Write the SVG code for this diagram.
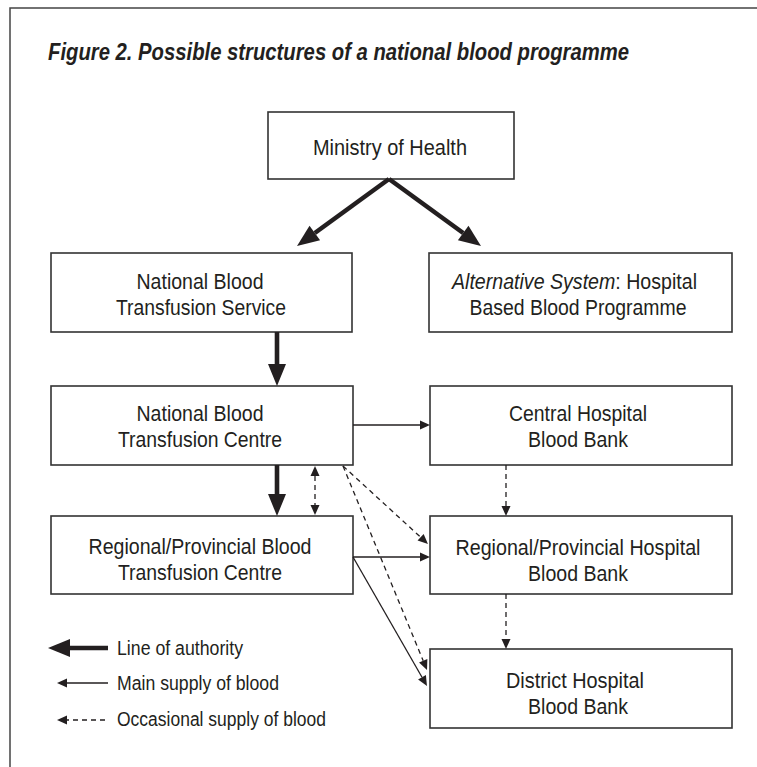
<svg xmlns="http://www.w3.org/2000/svg" width="757" height="767" viewBox="0 0 757 767">
<style>
  .frame{fill:none;stroke:#444;stroke-width:1.5}
  .box{fill:#fff;stroke:#333;stroke-width:1.6}
  .t{font-family:"Liberation Sans",Arial,sans-serif;font-size:22px;fill:#231f20;text-anchor:middle}
  .ts{font-family:"Liberation Sans",Arial,sans-serif;font-size:22px;fill:#231f20;text-anchor:start}
  .lg{font-family:"Liberation Sans",Arial,sans-serif;font-size:20px;fill:#231f20;text-anchor:start}
  .title{font-family:"Liberation Sans",Arial,sans-serif;font-size:23px;font-weight:bold;font-style:italic;fill:#231f20}
  .thick{stroke:#231f20;stroke-width:4.6;fill:none;stroke-linecap:butt}
  .thin{stroke:#231f20;stroke-width:1.3;fill:none}
  .dash{stroke:#231f20;stroke-width:1.3;fill:none;stroke-dasharray:5,4}
</style>
<defs>
  <marker id="bigHead" markerUnits="userSpaceOnUse" viewBox="0 -10 22 20" markerWidth="22" markerHeight="20" refX="0" refY="0" orient="auto" overflow="visible">
    <path d="M0,-9 L22,0 L0,9 Z" fill="#231f20"/>
  </marker>
  <marker id="smallHead" markerUnits="userSpaceOnUse" viewBox="0 -5 10 10" markerWidth="10" markerHeight="10" refX="0" refY="0" orient="auto-start-reverse" overflow="visible">
    <path d="M0,-4.5 L10,0 L0,4.5 Z" fill="#231f20"/>
  </marker>
</defs>
<rect x="0" y="0" width="757" height="767" fill="#fff"/>
<rect class="frame" x="10" y="8" width="800" height="800"/>
<text class="title" x="48" y="60" textLength="581" lengthAdjust="spacingAndGlyphs">Figure 2. Possible structures of a national blood programme</text>

<g id="ministry">
  <rect class="box" x="268" y="112" width="246" height="67"/>
  <text class="t" x="390" y="155" textLength="154" lengthAdjust="spacingAndGlyphs">Ministry of Health</text>
</g>
<g id="nbts">
  <rect class="box" x="51" y="253" width="301" height="79"/>
  <text class="t" x="200" y="289" textLength="127" lengthAdjust="spacingAndGlyphs">National Blood</text>
  <text class="t" x="201" y="315" textLength="170" lengthAdjust="spacingAndGlyphs">Transfusion Service</text>
</g>
<g id="alternative">
  <rect class="box" x="429" y="253" width="303" height="79"/>
  <text class="ts" x="452" y="289" textLength="245" lengthAdjust="spacingAndGlyphs"><tspan font-style="italic">Alternative System</tspan>: Hospital</text>
  <text class="t" x="578" y="315" textLength="217" lengthAdjust="spacingAndGlyphs">Based Blood Programme</text>
</g>
<g id="nbtc">
  <rect class="box" x="51" y="386" width="302" height="79"/>
  <text class="t" x="200" y="421" textLength="127" lengthAdjust="spacingAndGlyphs">National Blood</text>
  <text class="t" x="200" y="447" textLength="164" lengthAdjust="spacingAndGlyphs">Transfusion Centre</text>
</g>
<g id="central">
  <rect class="box" x="430" y="386" width="302" height="79"/>
  <text class="t" x="578" y="421" textLength="138" lengthAdjust="spacingAndGlyphs">Central Hospital</text>
  <text class="t" x="578" y="447" textLength="100" lengthAdjust="spacingAndGlyphs">Blood Bank</text>
</g>
<g id="regional">
  <rect class="box" x="51" y="516" width="302" height="78"/>
  <text class="t" x="200" y="554" textLength="223" lengthAdjust="spacingAndGlyphs">Regional/Provincial Blood</text>
  <text class="t" x="200" y="580" textLength="164" lengthAdjust="spacingAndGlyphs">Transfusion Centre</text>
</g>
<g id="regionalHospital">
  <rect class="box" x="430" y="516" width="302" height="78"/>
  <text class="t" x="578" y="555" textLength="245" lengthAdjust="spacingAndGlyphs">Regional/Provincial Hospital</text>
  <text class="t" x="578" y="581" textLength="100" lengthAdjust="spacingAndGlyphs">Blood Bank</text>
</g>
<g id="district">
  <rect class="box" x="430" y="649" width="302" height="79"/>
  <text class="t" x="575" y="688" textLength="138" lengthAdjust="spacingAndGlyphs">District Hospital</text>
  <text class="t" x="578" y="714" textLength="100" lengthAdjust="spacingAndGlyphs">Blood Bank</text>
</g>

<g id="connectors">
  <line class="thick" x1="389" y1="179" x2="314.8" y2="233" marker-end="url(#bigHead)"/>
  <line class="thick" x1="389" y1="179" x2="463.2" y2="233" marker-end="url(#bigHead)"/>
  <line class="thick" x1="277" y1="332" x2="277" y2="364" marker-end="url(#bigHead)"/>
  <line class="thick" x1="277" y1="465" x2="277" y2="494" marker-end="url(#bigHead)"/>
  <line class="dash" x1="315" y1="476" x2="315" y2="505" marker-start="url(#smallHead)" marker-end="url(#smallHead)"/>
  <line class="thin" x1="353" y1="425" x2="420" y2="425" marker-end="url(#smallHead)"/>
  <line class="thin" x1="353" y1="557" x2="420" y2="557" marker-end="url(#smallHead)"/>
  <line class="thin" x1="353" y1="557" x2="422" y2="677.3" marker-end="url(#smallHead)"/>
  <line class="dash" x1="343" y1="466" x2="420.6" y2="537.2" marker-end="url(#smallHead)"/>
  <line class="dash" x1="343" y1="466" x2="423.2" y2="660.8" marker-end="url(#smallHead)"/>
  <line class="dash" x1="506" y1="465" x2="506" y2="506" marker-end="url(#smallHead)"/>
  <line class="dash" x1="506" y1="594" x2="506" y2="639" marker-end="url(#smallHead)"/>
</g>

<g id="legend">
  <line class="thick" x1="108" y1="648" x2="70" y2="648" stroke-width="4" marker-end="url(#bigHead)"/>
  <text class="lg" x="117" y="655" textLength="126" lengthAdjust="spacingAndGlyphs">Line of authority</text>
  <line class="thin" x1="108" y1="683" x2="67" y2="683" marker-end="url(#smallHead)"/>
  <text class="lg" x="117" y="690" textLength="162" lengthAdjust="spacingAndGlyphs">Main supply of blood</text>
  <line class="dash" x1="105" y1="720" x2="67" y2="720" stroke-dasharray="7,5" marker-end="url(#smallHead)"/>
  <text class="lg" x="117" y="726" textLength="209" lengthAdjust="spacingAndGlyphs">Occasional supply of blood</text>
</g>
</svg>
